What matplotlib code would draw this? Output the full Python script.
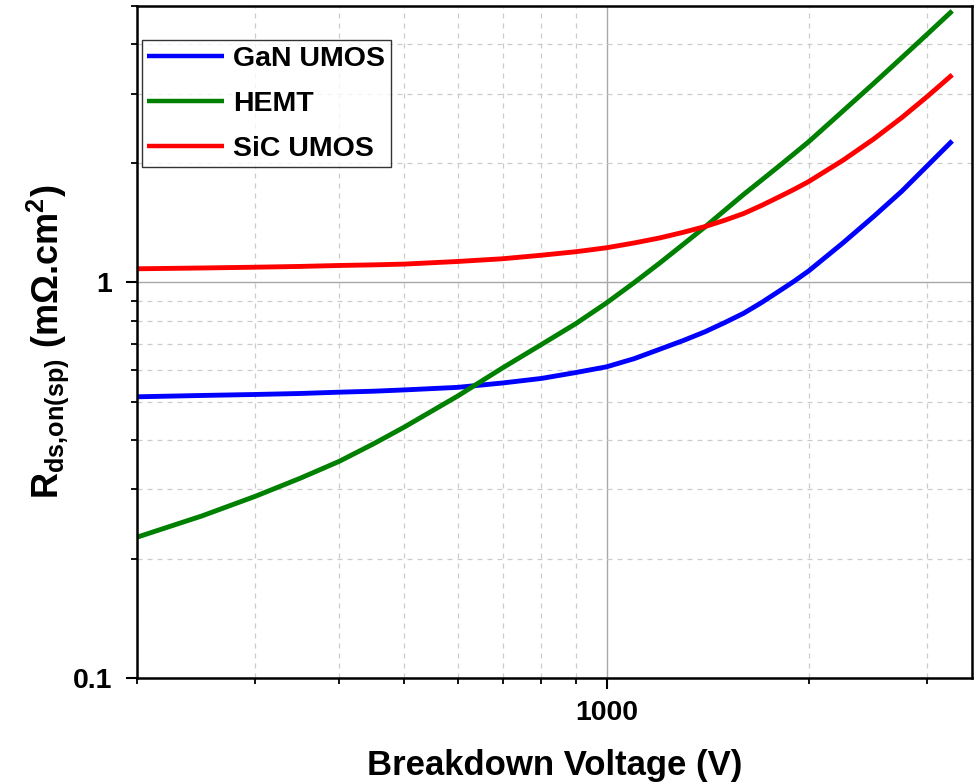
import matplotlib
matplotlib.use("Agg")
import matplotlib.pyplot as plt
from matplotlib.ticker import LogLocator, FuncFormatter, NullFormatter

plt.rcParams["font.family"] = "Liberation Sans"
plt.rcParams["font.weight"] = "bold"
plt.rcParams["mathtext.fontset"] = "custom"
plt.rcParams["mathtext.rm"] = "Liberation Sans:bold"
plt.rcParams["mathtext.it"] = "Liberation Sans:bold"
plt.rcParams["mathtext.bf"] = "Liberation Sans:bold"

# breakdown voltage (V)
vbr = [200, 250, 300, 350, 400, 450, 500, 600, 700, 800, 900, 1000, 1100,
       1200, 1300, 1400, 1500, 1600, 1700, 1800, 1900, 2000, 2250, 2500,
       2750, 3000, 3270]

# specific on-resistance (mOhm.cm2)
gan_umos = [0.514, 0.518, 0.521, 0.524, 0.528, 0.531, 0.535, 0.543, 0.557,
            0.572, 0.592, 0.612, 0.642, 0.678, 0.713, 0.750, 0.792, 0.836,
            0.889, 0.947, 1.006, 1.07, 1.26, 1.47, 1.70, 1.97, 2.28]
hemt = [0.227, 0.257, 0.288, 0.320, 0.353, 0.391, 0.431, 0.516, 0.608,
        0.697, 0.787, 0.888, 1.00, 1.12, 1.248, 1.38, 1.523, 1.67, 1.813,
        1.96, 2.113, 2.27, 2.716, 3.19, 3.70, 4.24, 4.86]
sic_umos = [1.083, 1.088, 1.093, 1.098, 1.104, 1.108, 1.113, 1.130, 1.148,
            1.172, 1.196, 1.224, 1.259, 1.296, 1.339, 1.384, 1.437, 1.494,
            1.565, 1.641, 1.718, 1.80, 2.038, 2.307, 2.61, 2.95, 3.35]

fig = plt.figure(figsize=(9.74, 7.82), dpi=100)
ax = fig.add_axes([0.1407, 0.133, 0.8573, 0.8593])

style = dict(lw=3.5, solid_joinstyle="round", solid_capstyle="butt")
ax.plot(vbr, gan_umos, color="#0000ff", label="GaN UMOS", **style)
ax.plot(vbr, hemt, color="#008000", label="HEMT", **style)
ax.plot(vbr, sic_umos, color="#ff0000", label="SiC UMOS", **style)

ax.set_xscale("log")
ax.set_yscale("log")
ax.set_xlim(200, 3500)
ax.set_ylim(0.1, 5)

for axis in (ax.xaxis, ax.yaxis):
    axis.set_major_locator(LogLocator(base=10))
    axis.set_minor_locator(LogLocator(base=10, subs=range(2, 10)))
    axis.set_major_formatter(FuncFormatter(lambda v, p: f"{v:g}"))
    axis.set_minor_formatter(NullFormatter())

ax.set_axisbelow(True)
ax.grid(which="major", color="#a8a8a8", lw=1.0, ls="-")
ax.grid(which="minor", color="#cccccc", lw=0.9, ls=(0, (4, 4)))

for s in ax.spines.values():
    s.set_linewidth(1.8)
ax.tick_params(which="major", direction="out", length=8, width=1.5,
               labelsize=20.5)
ax.tick_params(which="minor", direction="out", length=4.5, width=1.3)
ax.tick_params(axis="x", which="major", pad=8)
ax.tick_params(axis="y", which="major", pad=10)

ax.set_xlabel("Breakdown Voltage (V)", fontsize=25, fontweight="bold")
ax.set_ylabel(r"R$_{\rm ds{,}on(sp)}$ (mΩ.cm$^{\rm 2}$)", fontsize=26,
              fontweight="bold")
ax.xaxis.set_label_coords(0.5, -0.105)
ax.yaxis.set_label_coords(-0.079, 0.5)

leg = ax.legend(loc="upper left", bbox_to_anchor=(0.0056, 0.949),
                borderaxespad=0, fontsize=20.5, frameon=True, fancybox=False,
                edgecolor="black", handlelength=2.7, handletextpad=0.3,
                labelspacing=0.66, borderpad=0.2)
leg.get_frame().set_linewidth(1.0)
for line in leg.get_lines():
    line.set_linewidth(3.2)

fig.savefig("out.png", dpi=100)
